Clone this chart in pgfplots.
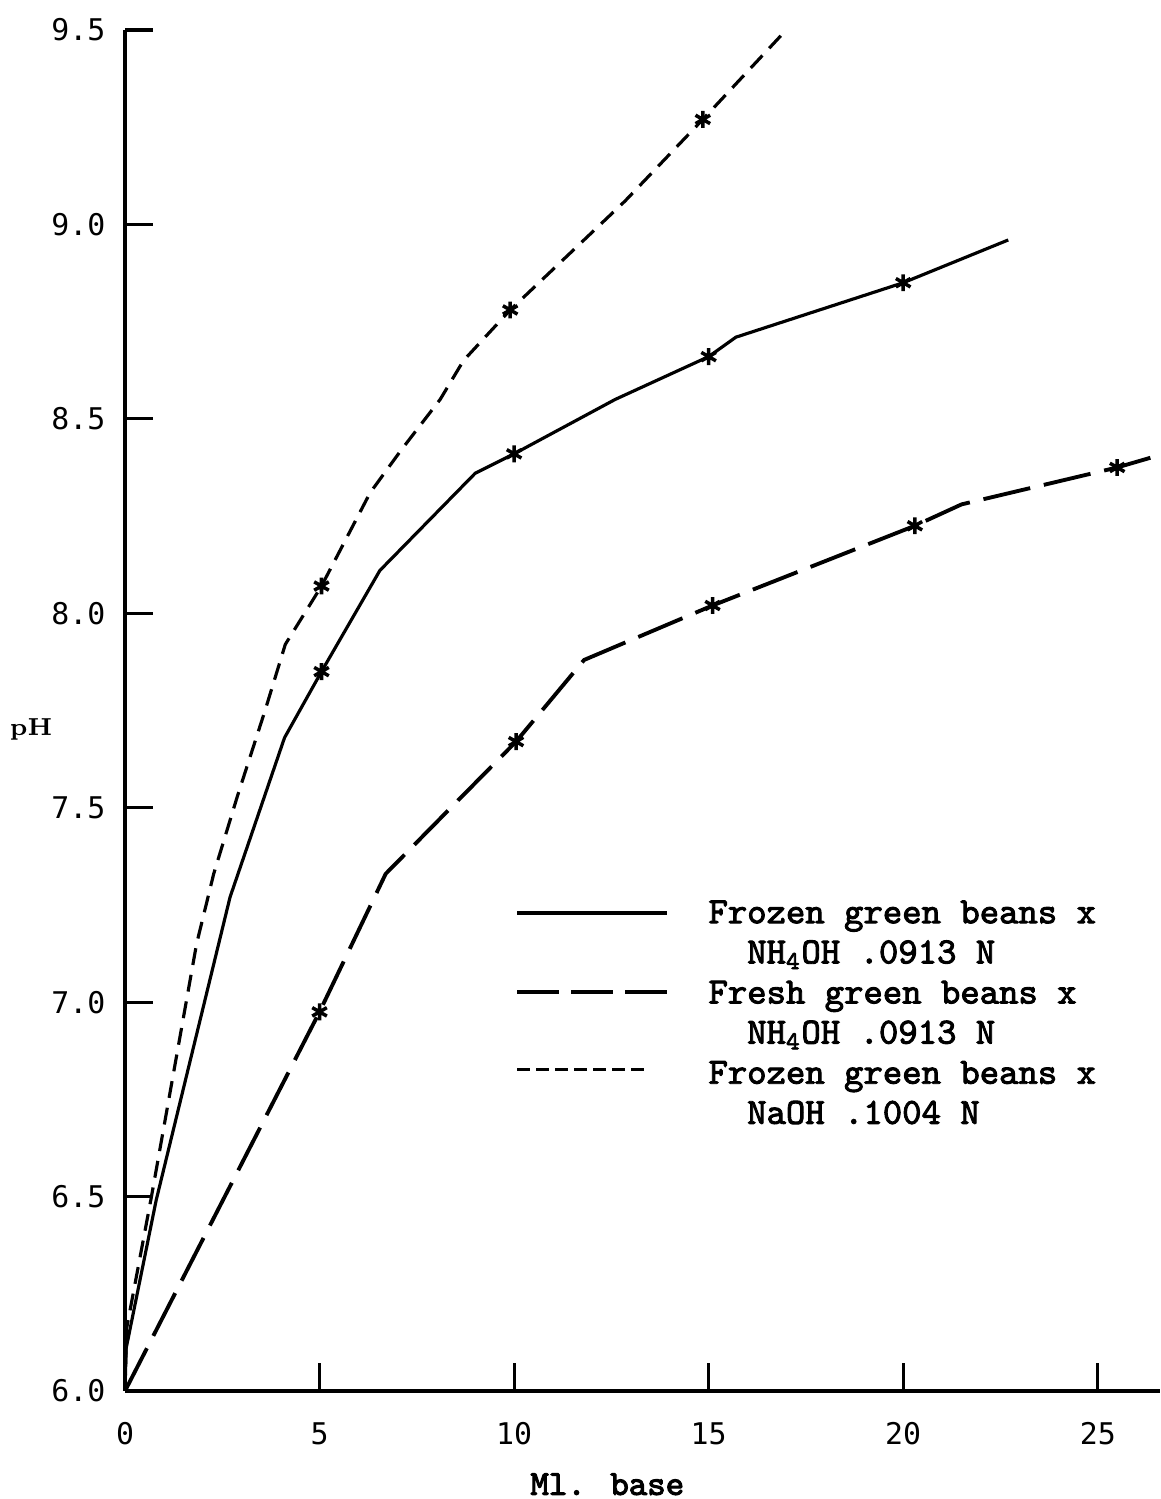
\documentclass[border=0pt]{standalone}
\usepackage{fontspec}
\usepackage{pgfplots}
\pgfplotsset{compat=1.18}
\newfontfamily\tickfont{DejaVu Sans Mono}
\newfontfamily\typew[AutoFakeBold=2.5]{Latin Modern Mono}
\newfontfamily\typewb[AutoFakeBold=3]{Latin Modern Mono}
\pgfplotsset{
  legA/.style={legend image code/.code={\draw[##1, line width=1.2pt] (0cm,-0.01cm) -- (1.5cm,-0.01cm);}},
  legB/.style={legend image code/.code={\draw[##1, dash pattern=on 0.42cm off 0.12cm] (0cm,0.0cm) -- (1.5cm,0.0cm);}},
  legC/.style={legend image code/.code={\draw[##1, dash pattern=on 0.13cm off 0.06cm] (0cm,0.03cm) -- (1.27cm,0.03cm);}},
}
\begin{document}
\begin{tikzpicture}
\useasboundingbox (0,0) rectangle (11.6,14.99);
\begin{axis}[
  at={(1.25cm,1.08cm)}, anchor=south west,
  scale only axis, width=10.35cm, height=13.61cm,
  xmin=0, xmax=26.6, ymin=6, ymax=9.5,
  axis lines=left,
  axis line style={-, line width=1.3pt},
  xtick={0,5,10,15,20,25}, xticklabels={0,5,10,15,20,25},
  ytick={6,6.5,7,7.5,8,8.5,9,9.5},
  yticklabels={6.0,6.5,7.0,7.5,8.0,8.5,9.0,9.5},
  tick align=inside, major tick length=0.28cm,
  tick style={line width=0.9pt, black},
  xticklabel style={font=\tickfont\fontsize{8.5}{10}\selectfont, inner sep=0pt, yshift=-0.31cm},
  yticklabel style={font=\tickfont\fontsize{8.5}{10}\selectfont, inner sep=0pt, xshift=-0.19cm},
  xlabel={Ml. base},
  xlabel style={font=\typewb\bfseries\fontsize{10}{12}\selectfont, at={(axis description cs:0.466,-0.0685)}, anchor=center},
  ylabel={pH},
  ylabel style={font=\bfseries\fontsize{7}{8}\selectfont, rotate=-90, at={(axis description cs:-0.0908,0.486)}, anchor=center},
  legend cell align=left,
  legend style={at={(axis cs:10.03,7.275)}, anchor=north west, draw=none, fill=none,
    inner sep=0pt, outer sep=0pt, row sep=0.068cm, column sep=0.39cm,
    nodes={inner sep=0pt},
    font=\typew\bfseries\fontsize{10.5}{11.4}\selectfont},
]
% Frozen green beans x NH4OH .0913 N
\addplot[black, line width=0.9pt, legA] coordinates {
 (0,6.0) (0.03,6.11) (0.8,6.49) (2.7,7.27) (4.1,7.68) (5.05,7.85) (6.55,8.11)
 (9.0,8.36) (10.0,8.41) (12.6,8.55) (15.0,8.66) (15.7,8.71) (20.0,8.85) (22.7,8.96)};
\addlegendentry{\strut Frozen green beans x}
\addlegendimage{empty legend}
\addlegendentry{\strut\phantom{xx}NH\textsubscript{4}OH .0913 N}
% Fresh green beans x NH4OH .0913 N
\addplot[black, line width=1.1pt, dash pattern=on 0.48cm off 0.14cm, legB] coordinates {
 (0,6.0) (5.0,6.975) (6.7,7.33) (10.05,7.67) (11.8,7.88) (15.1,8.02) (20.3,8.225)
 (21.5,8.28) (25.5,8.375) (26.7,8.41)};
\addlegendentry{\strut Fresh green beans x}
\addlegendimage{empty legend}
\addlegendentry{\strut\phantom{xx}NH\textsubscript{4}OH .0913 N}
% Frozen green beans x NaOH .1004 N
\addplot[black, line width=0.9pt, dash pattern=on 0.17cm off 0.1cm, legC] coordinates {
 (0,6.0) (0.04,6.16) (0.68,6.5) (1.84,7.15) (2.28,7.33) (2.89,7.53) (3.6,7.75)
 (4.12,7.92) (5.05,8.07) (6.3,8.31) (7.1,8.42) (8.1,8.55) (8.7,8.65) (9.9,8.78)
 (12.85,9.06) (14.85,9.27) (16.9,9.49)};
\addlegendentry{\strut Frozen green beans x}
\addlegendimage{empty legend}
\addlegendentry{\strut\phantom{xx}NaOH .1004 N}
% data-point markers
\addplot[only marks, mark=asterisk, mark size=2.4pt, mark options={solid, line width=1pt}, forget plot] coordinates {
 (5.05,7.85) (10.0,8.41) (15.0,8.66) (20.0,8.85)};
\addplot[only marks, mark=asterisk, mark size=2.4pt, mark options={solid, line width=1pt}, forget plot] coordinates {
 (5.0,6.975) (10.05,7.67) (15.1,8.02) (20.3,8.225) (25.5,8.375)};
\addplot[only marks, mark=asterisk, mark size=2.4pt, mark options={solid, line width=1pt}, forget plot] coordinates {
 (5.05,8.07) (9.9,8.78) (14.85,9.27)};
\end{axis}
\end{tikzpicture}
\end{document}
